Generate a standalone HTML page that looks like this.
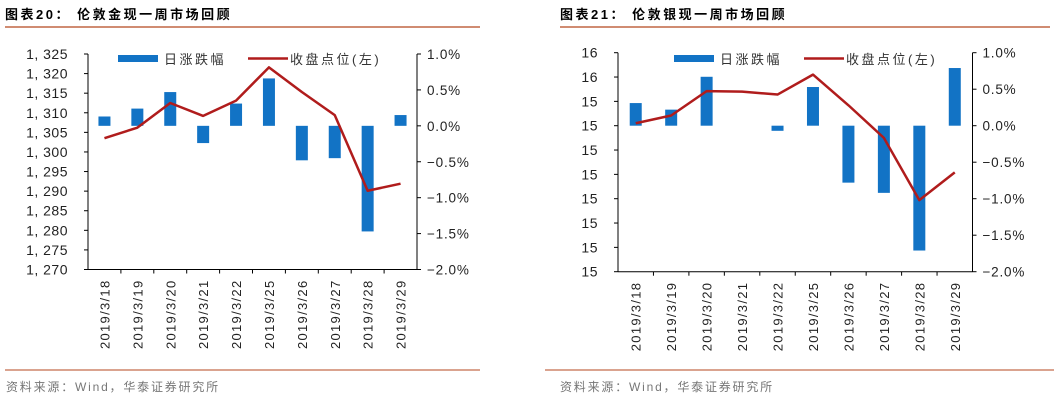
<!DOCTYPE html>
<html><head><meta charset="utf-8">
<style>
html,body{margin:0;padding:0;background:#fff;width:1054px;height:400px;overflow:hidden}
svg{display:block}
text{font-family:"Liberation Sans","Noto Sans CJK SC",sans-serif}
</style></head>
<body>
<svg id="svg" width="1054" height="400" viewBox="0 0 1054 400">
<text x="5" y="19" font-size="13" font-weight="bold" fill="#000" letter-spacing="2.5">图表20：  伦敦金现一周市场回顾</text>
<line x1="5" y1="27" x2="480" y2="27" stroke="#b5471f" stroke-width="1.2"/>
<text x="560" y="19" font-size="13" font-weight="bold" fill="#000" letter-spacing="2.5">图表21：  伦敦银现一周市场回顾</text>
<line x1="560" y1="27" x2="1050" y2="27" stroke="#b5471f" stroke-width="1.2"/>
<line x1="5" y1="370" x2="480" y2="370" stroke="#b5471f" stroke-width="1"/>
<text x="6" y="391" font-size="12" fill="#777" letter-spacing="1.8">资料来源：Wind，华泰证券研究所</text>
<line x1="545" y1="370" x2="1054" y2="370" stroke="#b5471f" stroke-width="1"/>
<text x="560" y="391" font-size="12" fill="#777" letter-spacing="1.8">资料来源：Wind，华泰证券研究所</text>
<g id="c1"></g>
<g id="c2"></g>
</svg>
<script>
const categories = ["2019/3/18","2019/3/19","2019/3/20","2019/3/21","2019/3/22","2019/3/25","2019/3/26","2019/3/27","2019/3/28","2019/3/29"];
const goldClose = [1303.5,1306.2,1312.5,1309.2,1313.1,1321.6,1315.3,1309.4,1290.1,1291.9];
const goldChange = [0.13,0.24,0.47,-0.24,0.31,0.66,-0.48,-0.45,-1.47,0.15];
const goldLeftTicks = [1270,1275,1280,1285,1290,1295,1300,1305,1310,1315,1320,1325];
const goldLeftLabels = ["1, 270","1, 275","1, 280","1, 285","1, 290","1, 295","1, 300","1, 305","1, 310","1, 315","1, 320","1, 325"];
const silverClose = [15.385,15.401,15.451,15.450,15.444,15.485,15.422,15.355,15.227,15.284];
const silverChange = [0.31,0.22,0.67,0,-0.07,0.53,-0.78,-0.92,-1.71,0.79];
const silverLeftTicks = [15.08,15.13,15.18,15.23,15.28,15.33,15.38,15.43,15.48,15.53];
const silverLeftLabels = ["15","15","15","15","15","15","15","15","16","16"];
const rightTicks = [-2.0,-1.5,-1.0,-0.5,0.0,0.5,1.0];
const rightLabels = ["-2.0%","-1.5%","-1.0%","-0.5%","0.0%","0.5%","1.0%"];

const NS="http://www.w3.org/2000/svg";
function mk(parent,tag,attrs){const e=document.createElementNS(NS,tag);for(const k in attrs)e.setAttribute(k,attrs[k]);parent.appendChild(e);return e;}

function draw(gid,cfg,close,change,lTicks,lLabels){
  const g=document.getElementById(gid);
  const L=cfg.left,R=cfg.right,T=cfg.top,B=cfg.bottom;
  const lmin=lTicks[0],lmax=lTicks[lTicks.length-1];
  const yL=v=>B-(v-lmin)/(lmax-lmin)*(B-T);
  const yR=v=>B-(v-(-2))/(3)*(B-T);
  const bw=(R-L)/categories.length;
  const xC=i=>L+bw*(i+0.5);
  let a=mk(g,'line',{x1:L,y1:T,x2:L,y2:B,stroke:'#000','stroke-width':1});
  
  a=mk(g,'line',{x1:R,y1:T,x2:R,y2:B,stroke:'#000','stroke-width':1});
  
  a=mk(g,'line',{x1:L,y1:B,x2:R,y2:B,stroke:'#000','stroke-width':1});
  
  lTicks.forEach((v,i)=>{
    const y=yL(v);
    const tk=mk(g,'line',{x1:L-4,y1:y,x2:L,y2:y,stroke:'#000'});
    
    const t=mk(g,'text',{x:L-20,y:y+5,'font-size':14,fill:'#222','text-anchor':'end','letter-spacing':'0.5'});
    t.textContent=lLabels[i];
    
  });
  rightTicks.forEach((v,i)=>{
    const y=yR(v);
    const tk=mk(g,'line',{x1:R,y1:y,x2:R+4,y2:y,stroke:'#000'});
    
    const t=mk(g,'text',{x:R+10,y:y+5,'font-size':13.5,fill:'#222','letter-spacing':'0.8'});
    t.textContent=rightLabels[i].replace('-','−');
    
  });
  categories.forEach((c,i)=>{
    const x=L+bw*i;
    if(i>0){const tk=mk(g,'line',{x1:x,y1:B,x2:x,y2:B+4,stroke:'#000'});
    }
    const t=mk(g,'text',{x:0,y:0,'font-size':13,fill:'#222','text-anchor':'end','letter-spacing':'1.3',transform:`translate(${xC(i)+5},${B+10}) rotate(-90)`});
    t.textContent=c;
    
  });
  change.forEach((v,i)=>{
    const y0=yR(0),y1=yR(v);
    const r=mk(g,'rect',{x:xC(i)-6,y:Math.min(y0,y1),width:12,height:Math.abs(y1-y0),fill:'#1273c5'});
    
  });
  const pts=close.map((v,i)=>xC(i)+','+yL(v)).join(' ');
  const pl=mk(g,'polyline',{points:pts,fill:'none',stroke:'#b01c1c','stroke-width':2.5,'stroke-linejoin':'round'});
  
  const lx=cfg.legX;
  let s=mk(g,'rect',{x:lx,y:55,width:40,height:7,fill:'#1273c5'});
  
  let t=mk(g,'text',{x:lx+46,y:64,'font-size':13,fill:'#333','letter-spacing':'2.5'});t.textContent='日涨跌幅';
  
  s=mk(g,'line',{x1:lx+130,y1:58.5,x2:lx+170,y2:58.5,stroke:'#b01c1c','stroke-width':2.5});
  
  t=mk(g,'text',{x:lx+172,y:64,'font-size':13,fill:'#333','letter-spacing':'2.5'});t.textContent='收盘点位(左)';
  
}
draw('c1',{left:88,right:417,top:54,bottom:269.5,legX:118},goldClose,goldChange,goldLeftTicks,goldLeftLabels);
draw('c2',{left:618,right:972.5,top:52.7,bottom:271.7,legX:674},silverClose,silverChange,silverLeftTicks,silverLeftLabels);
</script>
</body></html>
